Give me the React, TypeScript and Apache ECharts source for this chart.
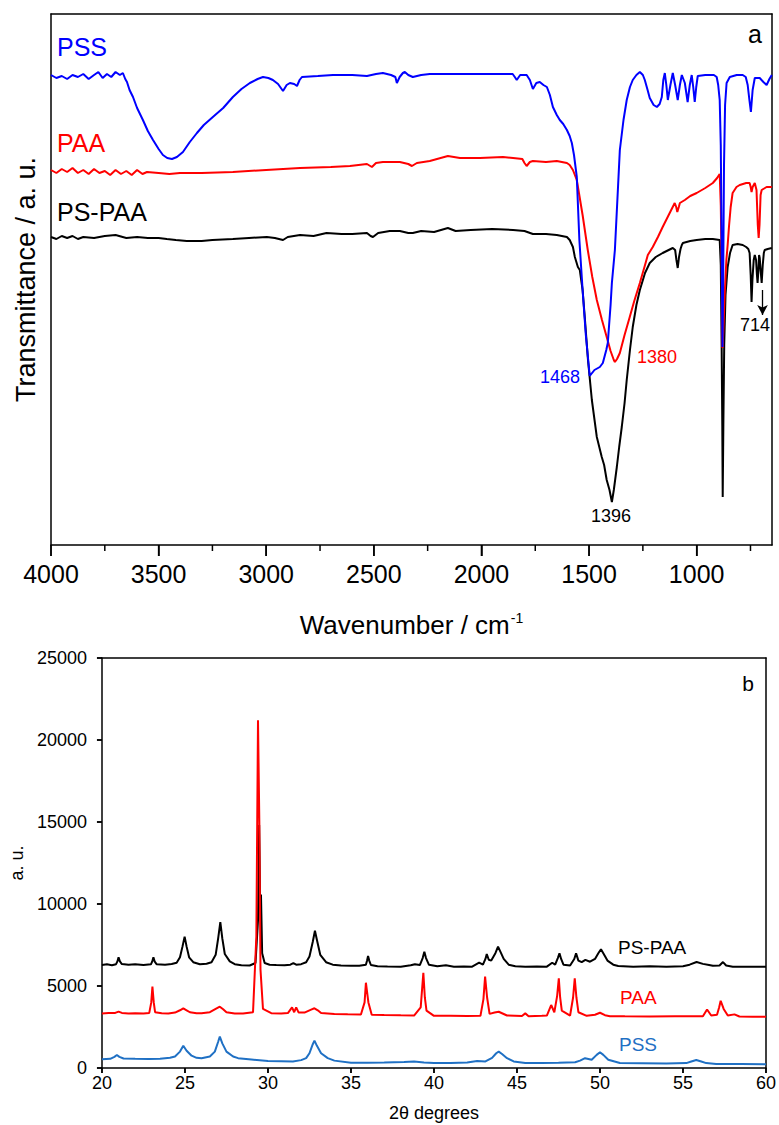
import React, { useEffect, useRef } from "react";
import * as echarts from "echarts";

const FONT = '"Liberation Sans", Arial, Helvetica, sans-serif';

// ---------- Panel a: FTIR (wavenumber cm-1, transmittance a.u.) ----------
const irMajorTicks = [4000, 3500, 3000, 2500, 2000, 1500, 1000];
const irMinorTicks = [3750, 3250, 2750, 2250, 1750, 1250, 750];

const pssIR: number[][] = [
  [4000, 470], [3975, 467], [3950, 469], [3925, 466], [3900, 470], [3875, 468], [3850, 471], [3825, 466],
  [3800, 470], [3780, 473], [3760, 467], [3740, 471], [3720, 468], [3700, 473], [3680, 470], [3666, 472],
  [3655, 466], [3647, 463], [3635, 455], [3619, 448], [3600, 437], [3573, 425], [3550, 414], [3526, 405],
  [3500, 396], [3480, 390], [3460, 387], [3438, 386], [3415, 388], [3387, 393], [3355, 403], [3322, 412],
  [3290, 420], [3248, 428], [3200, 437], [3155, 448], [3115, 456], [3076, 462], [3040, 466], [3015, 468],
  [2990, 467], [2969, 465], [2945, 461], [2922, 454], [2905, 460], [2890, 462], [2870, 461], [2857, 459],
  [2845, 465], [2834, 468], [2760, 469], [2690, 470], [2600, 470], [2532, 469], [2490, 471], [2458, 472],
  [2420, 470], [2400, 468], [2393, 462], [2380, 468], [2365, 472], [2356, 473], [2340, 470], [2319, 468],
  [2280, 470], [2240, 471], [2161, 471], [2000, 471], [1900, 471], [1855, 471], [1845, 468], [1836, 465],
  [1820, 470], [1800, 470], [1790, 470], [1775, 465], [1761, 456], [1745, 462], [1729, 463], [1712, 460],
  [1696, 458], [1682, 450], [1668, 438], [1650, 430], [1636, 425], [1620, 421], [1603, 415], [1590, 409],
  [1580, 402], [1570, 390], [1557, 368], [1545, 305], [1530, 255], [1515, 210], [1497, 169], [1475, 175],
  [1450, 178], [1436, 182], [1420, 195], [1413, 202], [1400, 240], [1394, 262], [1380, 295], [1365, 360],
  [1357, 395], [1340, 425], [1325, 445], [1310, 458], [1297, 465], [1280, 470], [1264, 473], [1250, 470],
  [1241, 465], [1228, 455], [1218, 447], [1200, 440], [1185, 438], [1172, 441], [1162, 448], [1155, 465],
  [1148, 472], [1141, 460], [1134, 445], [1122, 460], [1111, 472], [1100, 460], [1088, 445], [1078, 460],
  [1069, 470], [1055, 462], [1042, 443], [1032, 460], [1023, 470], [1016, 458], [1009, 443], [1002, 458],
  [995, 469], [960, 470], [920, 470], [907, 468], [900, 460], [893, 445], [888, 400], [884, 300],
  [880, 198], [877, 260], [873, 380], [868, 440], [861, 462], [846, 468], [814, 470], [786, 470],
  [772, 468], [763, 460], [755, 445], [748, 433], [740, 455], [730, 467], [707, 467], [690, 463],
  [675, 460], [662, 466], [651, 470],
];

const paaIR: number[][] = [
  [4000, 375], [3975, 372], [3950, 376], [3925, 373], [3900, 377], [3875, 372], [3850, 375], [3825, 371],
  [3800, 376], [3775, 372], [3750, 374], [3725, 370], [3700, 375], [3675, 371], [3650, 374], [3625, 370],
  [3600, 375], [3575, 371], [3554, 373], [3500, 372], [3450, 371], [3401, 372], [3300, 372], [3155, 373],
  [3000, 375], [2843, 377], [2700, 378], [2611, 379], [2532, 381], [2509, 378], [2490, 382], [2458, 383],
  [2379, 383], [2340, 381], [2323, 379], [2300, 382], [2240, 384], [2156, 389], [2100, 387], [2007, 387],
  [1900, 388], [1853, 387], [1810, 386], [1800, 382], [1790, 379], [1775, 383], [1761, 384], [1700, 383],
  [1650, 384], [1603, 382], [1590, 380], [1575, 375], [1557, 365], [1530, 330], [1506, 295], [1485, 268],
  [1464, 245], [1440, 225], [1418, 208], [1400, 194], [1385, 185], [1380, 183], [1370, 186], [1357, 192],
  [1335, 210], [1311, 228], [1290, 244], [1264, 262], [1240, 280], [1227, 290], [1204, 298], [1180, 308],
  [1158, 318], [1130, 330], [1102, 342], [1095, 338], [1090, 333], [1083, 338], [1078, 342], [1055, 345],
  [1030, 349], [1000, 352], [960, 357], [925, 362], [905, 367], [893, 371], [888, 340], [884, 280],
  [880, 197], [876, 215], [870, 250], [862, 285], [856, 300], [850, 318], [842, 338], [833, 352],
  [815, 358], [800, 360], [770, 362], [754, 362], [749, 358], [745, 353], [740, 358], [730, 362],
  [722, 355], [716, 320], [712, 307], [708, 320], [703, 350], [698, 355], [675, 358], [651, 358],
];

const pspaaIR: number[][] = [
  [4000, 308], [3975, 306], [3950, 309], [3925, 307], [3900, 309], [3875, 306], [3850, 308], [3800, 307],
  [3750, 309], [3700, 310], [3650, 307], [3600, 308], [3550, 307], [3500, 307], [3462, 306], [3420, 305],
  [3369, 304], [3300, 304], [3250, 305], [3155, 306], [3080, 307], [2997, 308], [2960, 307], [2922, 305],
  [2900, 308], [2843, 310], [2780, 309], [2720, 312], [2650, 311], [2600, 311], [2532, 312], [2515, 309],
  [2504, 308], [2480, 312], [2426, 314], [2379, 314], [2340, 312], [2319, 312], [2280, 314], [2220, 313],
  [2156, 317], [2120, 314], [2050, 315], [1950, 316], [1853, 315], [1800, 314], [1761, 311], [1700, 311],
  [1650, 310], [1603, 308], [1590, 305], [1575, 298], [1566, 288], [1552, 278], [1543, 275], [1530, 255],
  [1520, 228], [1505, 185], [1487, 145], [1464, 108], [1441, 88], [1430, 80], [1418, 65], [1405, 55],
  [1394, 43], [1385, 55], [1371, 78], [1360, 98], [1348, 118], [1335, 142], [1325, 165], [1310, 195],
  [1297, 218], [1280, 240], [1264, 255], [1240, 272], [1218, 282], [1190, 288], [1158, 292], [1130, 295],
  [1111, 297], [1100, 295], [1094, 285], [1088, 277], [1082, 288], [1075, 296], [1069, 300], [1064, 302],
  [1030, 304], [1000, 305], [960, 306], [925, 306], [893, 305], [888, 280], [884, 200], [881, 120],
  [879, 48], [876, 120], [872, 200], [866, 250], [856, 278], [845, 292], [833, 300], [810, 301],
  [786, 300], [770, 298], [760, 296], [754, 292], [749, 270], [745, 243], [741, 265], [735, 285],
  [730, 290], [724, 285], [720, 270], [717, 262], [713, 275], [710, 290], [707, 287], [703, 275],
  [698, 262], [693, 280], [688, 292], [684, 295], [670, 296], [651, 297],
];

// arrow near the 714 band: from / to (wavenumber, a.u.)
const arrow714 = [[694, 255], [694, 230]];

// ---------- Panel b: XRD (2theta degrees, a.u.) ----------
const xrdXTicks = [20, 25, 30, 35, 40, 45, 50, 55, 60];
const xrdYTicks = [0, 5000, 10000, 15000, 20000, 25000];

const pspaaXRD: number[][] = [
  [20, 6280], [20.3, 6320], [20.6, 6270], [20.85, 6330], [20.93, 6500], [21.0, 6750], [21.08, 6500],
  [21.2, 6340], [21.6, 6290], [22.0, 6320], [22.5, 6280], [22.95, 6320], [23.03, 6500], [23.1, 6750],
  [23.18, 6480], [23.3, 6320], [23.8, 6300], [24.2, 6340], [24.5, 6420], [24.7, 6750], [24.85, 7400],
  [24.98, 8010], [25.1, 7400], [25.25, 6750], [25.5, 6450], [25.9, 6330], [26.3, 6360], [26.6, 6450],
  [26.85, 6900], [27.0, 7900], [27.13, 8900], [27.25, 7900], [27.4, 6950], [27.7, 6500], [28.0, 6330],
  [28.4, 6270], [28.9, 6250], [29.25, 6400], [29.4, 9000], [29.47, 14820], [29.52, 10550], [29.58, 10550],
  [29.65, 7000], [29.8, 6400], [30.1, 6300], [30.5, 6280], [31.0, 6260], [31.35, 6300], [31.53, 6400],
  [31.7, 6300], [32.0, 6330], [32.3, 6450], [32.5, 6800], [32.7, 7700], [32.83, 8370], [32.95, 7800],
  [33.15, 6900], [33.5, 6450], [33.9, 6300], [34.4, 6250], [35.0, 6240], [35.5, 6230], [35.9, 6290],
  [35.97, 6550], [36.03, 6830], [36.1, 6550], [36.2, 6280], [36.6, 6200], [37.2, 6190], [38.0, 6180],
  [38.6, 6260], [38.85, 6330], [39.15, 6280], [39.32, 6700], [39.42, 7090], [39.52, 6700], [39.7, 6290],
  [40.2, 6200], [40.72, 6260], [41.2, 6180], [41.8, 6190], [42.3, 6180], [42.72, 6420], [42.95, 6300],
  [43.1, 6650], [43.18, 6950], [43.3, 6600], [43.45, 6550], [43.7, 7000], [43.86, 7400], [44.0, 7100],
  [44.2, 6650], [44.5, 6300], [44.9, 6210], [45.5, 6180], [46.2, 6190], [46.8, 6180], [47.12, 6420],
  [47.3, 6300], [47.46, 6700], [47.56, 6990], [47.66, 6650], [47.8, 6300], [48.2, 6250], [48.45, 6650],
  [48.56, 6990], [48.7, 6550], [48.9, 6450], [49.12, 6590], [49.4, 6480], [49.7, 6650], [49.9, 7000],
  [50.06, 7240], [50.2, 7000], [50.45, 6550], [50.8, 6300], [51.1, 6220], [52, 6180], [53, 6200],
  [54, 6180], [55.0, 6210], [55.4, 6300], [55.82, 6460], [56.2, 6350], [56.57, 6280], [56.8, 6230],
  [57.2, 6250], [57.41, 6460], [57.6, 6250], [58, 6180], [59, 6180], [60, 6180],
];

const paaXRD: number[][] = [
  [20, 3330], [20.4, 3350], [20.8, 3360], [21.0, 3440], [21.2, 3360], [21.6, 3330], [22.0, 3340],
  [22.5, 3320], [22.85, 3360], [22.97, 4000], [23.04, 4960], [23.12, 4000], [23.2, 3400], [23.6, 3340],
  [24.0, 3330], [24.4, 3380], [24.7, 3520], [24.9, 3640], [25.1, 3520], [25.3, 3400], [25.7, 3340],
  [26.0, 3340], [26.5, 3400], [26.85, 3600], [27.1, 3740], [27.3, 3580], [27.5, 3400], [28.0, 3330],
  [28.5, 3330], [29.1, 3400], [29.3, 8000], [29.4, 21200], [29.48, 15000], [29.55, 6000], [29.7, 3600],
  [30.2, 3340], [30.8, 3330], [31.2, 3350], [31.45, 3700], [31.58, 3400], [31.7, 3700], [31.85, 3380],
  [32.2, 3380], [32.6, 3560], [32.8, 3640], [33.0, 3520], [33.2, 3350], [34, 3300], [34.8, 3270],
  [35.6, 3260], [35.82, 4000], [35.9, 5200], [36.0, 4400], [36.05, 4000], [36.25, 3250], [37, 3230],
  [38.0, 3210], [38.8, 3200], [39.2, 3700], [39.36, 5810], [39.45, 4300], [39.55, 3500], [40.0, 3180],
  [41.0, 3190], [42.0, 3170], [42.8, 3180], [42.98, 4200], [43.08, 5570], [43.2, 4300], [43.35, 3300],
  [43.65, 3380], [43.9, 3430], [44.4, 3200], [45.3, 3170], [45.5, 3330], [45.7, 3160], [46.5, 3180],
  [46.8, 3200], [47.06, 3840], [47.25, 3400], [47.42, 4400], [47.52, 5470], [47.6, 4300], [47.7, 3500],
  [48.2, 3200], [48.38, 4300], [48.48, 5470], [48.58, 4300], [48.7, 3400], [49.2, 3180], [49.7, 3250],
  [50.0, 3370], [50.3, 3220], [50.6, 3160], [51.5, 3150], [53, 3140], [54.5, 3150], [56.2, 3160],
  [56.45, 3570], [56.7, 3200], [57.05, 3250], [57.18, 3700], [57.27, 4100], [57.45, 3600], [57.7, 3200],
  [58.1, 3270], [58.4, 3140], [59.2, 3130], [60, 3130],
];

const pssXRD: number[][] = [
  [20, 530], [20.5, 560], [20.75, 680], [20.9, 790], [21.05, 680], [21.3, 580], [22, 560], [22.8, 550],
  [23.5, 560], [24.1, 620], [24.4, 700], [24.7, 1000], [24.9, 1360], [25.1, 1050], [25.4, 750],
  [25.7, 620], [26.0, 590], [26.5, 700], [26.8, 1000], [27.0, 1600], [27.1, 1910], [27.25, 1500],
  [27.5, 1000], [27.9, 700], [28.2, 600], [29, 520], [30, 420], [30.8, 410], [31.5, 400], [32.0, 480],
  [32.3, 600], [32.5, 900], [32.7, 1450], [32.8, 1670], [32.95, 1350], [33.2, 900], [33.6, 600],
  [34, 450], [35, 320], [36, 320], [37, 330], [38.2, 360], [38.8, 390], [39.4, 340], [40, 300], [41, 310],
  [42, 330], [42.6, 430], [43.1, 400], [43.5, 620], [43.75, 900], [43.9, 1000], [44.1, 850], [44.4, 600],
  [44.8, 400], [45.5, 300], [46.5, 310], [47.5, 320], [48.5, 350], [48.8, 450], [49.1, 600], [49.5, 500],
  [49.8, 800], [50.0, 960], [50.2, 800], [50.5, 500], [51.2, 300], [52.5, 290], [54, 280], [55.2, 300],
  [55.5, 400], [55.8, 490], [56.1, 400], [56.4, 300], [57, 250], [58.5, 240], [60, 230],
];

const BLUE = "#0000ff";
const RED = "#ff0000";
const BLACK = "#000000";
const XRD_BLUE = "#1f70c4";

const plain = (v: number) => String(v);

export default function App() {
  const ref = useRef<HTMLDivElement>(null);

  useEffect(() => {
    if (!ref.current) return;
    const chart = echarts.init(ref.current, null, { renderer: "svg" });

    const lineSeries = (
      data: any[],
      color: string,
      xi: number,
      yi: number,
      width: number,
      extra: any = {}
    ) => ({
      type: "line",
      data,
      xAxisIndex: xi,
      yAxisIndex: yi,
      showSymbol: false,
      symbol: "none",
      lineStyle: { color, width },
      itemStyle: { color },
      silent: true,
      clip: true,
      ...extra,
    });

    const txt = (
      text: string,
      x: number,
      y: number,
      size: number,
      color: string,
      align: string = "center"
    ) => ({
      type: "text",
      x,
      y,
      z: 10,
      style: {
        text,
        fill: color,
        font: `${size}px ${FONT}`,
        align,
        verticalAlign: "middle",
      },
    });

    const texts = [
      txt("PSS", 57, 47, 25, BLUE, "left"),
      txt("PAA", 57, 143, 25, RED, "left"),
      txt("PS-PAA", 57, 212, 25, BLACK, "left"),
      txt("a", 755, 34, 25, BLACK),
      txt("1468", 560, 377, 18, BLUE),
      txt("1380", 657, 357, 18, RED),
      txt("1396", 611, 516, 18, BLACK),
      txt("714", 755, 325, 18, BLACK),
      txt("b", 748, 683, 21, BLACK),
      txt("PS-PAA", 618, 947, 19, BLACK, "left"),
      txt("PAA", 620, 997, 19, RED, "left"),
      txt("PSS", 619, 1044, 19, XRD_BLUE, "left"),
    ];

    chart.setOption({
      animation: false,
      grid: [
        { left: 51, top: 14, width: 721, height: 531, show: false },
        { left: 99, top: 658, width: 667, height: 410, show: false },
      ],
      xAxis: [
        {
          type: "value",
          gridIndex: 0,
          inverse: true,
          min: 650,
          max: 4000,
          position: "bottom",
          axisLine: { show: true, onZero: false, lineStyle: { color: "#000", width: 1.5 } },
          axisTick: {
            show: true,
            length: 11,
            lineStyle: { color: "#000", width: 1.5 },
            customValues: irMajorTicks,
          },
          axisLabel: {
            show: true,
            fontSize: 25,
            fontFamily: FONT,
            color: "#000",
            margin: 16,
            customValues: irMajorTicks,
            formatter: plain,
          },
          splitLine: { show: false },
          name: "Wavenumber / cm{sup|-1}",
          nameLocation: "middle",
          nameGap: 66,
          nameTextStyle: {
            fontSize: 26,
            fontFamily: FONT,
            color: "#000",
            rich: {
              sup: { fontSize: 14, fontFamily: FONT, color: "#000", padding: [0, 0, 14, 1] },
            },
          },
        },
        {
          type: "value",
          gridIndex: 0,
          inverse: true,
          min: 650,
          max: 4000,
          position: "top",
          axisLine: { show: true, onZero: false, lineStyle: { color: "#000", width: 1.5 } },
          axisTick: { show: false },
          axisLabel: { show: false },
          splitLine: { show: false },
        },
        {
          type: "value",
          gridIndex: 1,
          min: 20,
          max: 60,
          interval: 5,
          position: "bottom",
          axisLine: { show: true, onZero: false, lineStyle: { color: "#000", width: 1.5 } },
          axisTick: { show: true, length: 5, lineStyle: { color: "#000", width: 1.5 } },
          axisLabel: { fontSize: 18, fontFamily: FONT, color: "#000", margin: 6, formatter: plain },
          splitLine: { show: false },
          name: "2θ degrees",
          nameLocation: "middle",
          nameGap: 36,
          nameTextStyle: { fontSize: 18, fontFamily: FONT, color: "#000" },
        },
        {
          type: "value",
          gridIndex: 1,
          min: 20,
          max: 60,
          interval: 5,
          position: "top",
          axisLine: { show: true, onZero: false, lineStyle: { color: "#000", width: 1.5 } },
          axisTick: { show: false },
          axisLabel: { show: false },
          splitLine: { show: false },
        },
      ],
      yAxis: [
        {
          type: "value",
          gridIndex: 0,
          min: 0,
          max: 531,
          position: "left",
          axisLine: { show: true, onZero: false, lineStyle: { color: "#000", width: 1.5 } },
          axisTick: { show: false },
          axisLabel: { show: false },
          splitLine: { show: false },
          name: "Transmittance / a. u.",
          nameLocation: "middle",
          nameGap: 12,
          nameTextStyle: { fontSize: 27, fontFamily: FONT, color: "#000" },
        },
        {
          type: "value",
          gridIndex: 0,
          min: 0,
          max: 531,
          position: "right",
          axisLine: { show: true, onZero: false, lineStyle: { color: "#000", width: 1.5 } },
          axisTick: { show: false },
          axisLabel: { show: false },
          splitLine: { show: false },
        },
        {
          type: "value",
          gridIndex: 1,
          min: 0,
          max: 25000,
          interval: 5000,
          position: "left",
          axisLine: { show: true, onZero: false, lineStyle: { color: "#000", width: 1.5 } },
          axisTick: { show: true, length: 5, lineStyle: { color: "#000", width: 1.5 } },
          axisLabel: { fontSize: 18, fontFamily: FONT, color: "#000", margin: 15, formatter: plain },
          splitLine: { show: false },
          name: "a. u.",
          nameLocation: "middle",
          nameGap: 70,
          nameTextStyle: { fontSize: 18, fontFamily: FONT, color: "#000" },
        },
        {
          type: "value",
          gridIndex: 1,
          min: 0,
          max: 25000,
          position: "right",
          axisLine: { show: true, onZero: false, lineStyle: { color: "#000", width: 1.5 } },
          axisTick: { show: false },
          axisLabel: { show: false },
          splitLine: { show: false },
        },
      ],
      series: [
        lineSeries(pspaaIR, BLACK, 0, 0, 2, {
          markLine: {
            silent: true,
            symbol: ["none", "arrow"],
            symbolSize: [8, 10],
            label: { show: false },
            lineStyle: { color: "#000", width: 1.3, type: "solid" },
            data: [[{ coord: arrow714[0] }, { coord: arrow714[1] }]],
          },
        }),
        lineSeries(paaIR, RED, 0, 0, 2),
        lineSeries(pssIR, BLUE, 0, 0, 2),
        lineSeries(pspaaXRD, BLACK, 2, 2, 2),
        lineSeries(paaXRD, RED, 2, 2, 2),
        lineSeries(pssXRD, XRD_BLUE, 2, 2, 2),
      ],
      graphic: texts,
    });

    // tick marks positioned through the axes' own scales
    const tickLine = (x1: number, y1: number, x2: number, y2: number) => ({
      type: "line",
      z: 20,
      silent: true,
      shape: { x1, y1, x2, y2 },
      style: { stroke: "#000", lineWidth: 1.5 },
    });
    const ticks: any[] = [];
    const irPx = (v: number) => chart.convertToPixel({ xAxisIndex: 0, yAxisIndex: 0 }, [v, 0]) as number[];
    irMajorTicks.forEach((v) => {
      const p = irPx(v);
      if (p) ticks.push(tickLine(p[0], p[1], p[0], p[1] + 11));
    });
    irMinorTicks.forEach((v) => {
      const p = irPx(v);
      if (p) ticks.push(tickLine(p[0], p[1], p[0], p[1] + 6));
    });
    xrdXTicks.forEach((v) => {
      const p = chart.convertToPixel({ xAxisIndex: 2, yAxisIndex: 2 }, [v, 0]) as number[];
      if (p) ticks.push(tickLine(p[0], p[1], p[0], p[1] + 5));
    });
    xrdYTicks.forEach((v) => {
      const p = chart.convertToPixel({ xAxisIndex: 2, yAxisIndex: 2 }, [20, v]) as number[];
      if (p) ticks.push(tickLine(p[0], p[1], p[0] - 5, p[1]));
    });
    chart.setOption({ graphic: [...texts, ...ticks] });

    return () => chart.dispose();
  }, []);

  return (
    <div
      ref={ref}
      style={{
        position: "fixed",
        left: 0,
        top: 0,
        width: 779,
        height: 1125,
        background: "#fff",
      }}
    />
  );
}
